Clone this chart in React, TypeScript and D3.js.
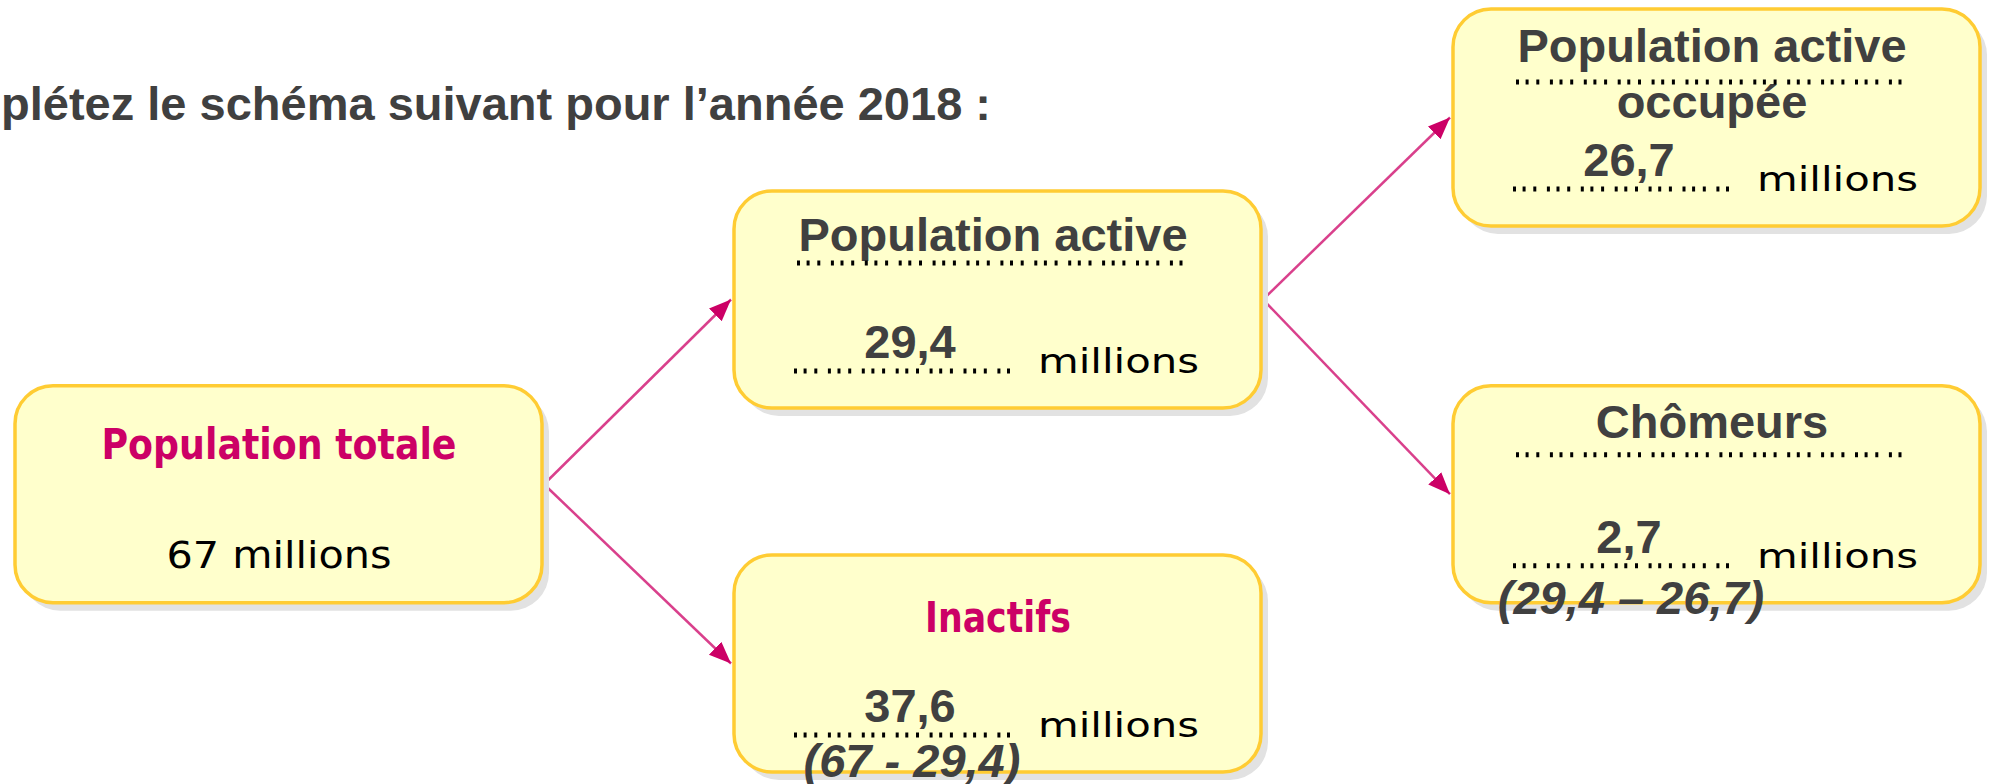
import React from "react";
import * as d3 from "d3";

// diagram content
const heading = "Complétez le schéma suivant pour l’année 2018 :";
const nodeTitles: string[][] = [
  ["Population totale"],
  ["Population active"],
  ["Inactifs"],
  ["Population active", "occupée"],
  ["Chômeurs"],
];
const nodeValues = ["67", "29,4", "37,6", "26,7", "2,7"];
const nodeNotes = ["", "", "(67 - 29,4)", "", "(29,4 – 26,7)"];
const unit = "millions";
const links: [number, number][] = [
  [0, 1],
  [0, 2],
  [1, 3],
  [1, 4],
];

// layout (column / row level per node)
const nodeCol = [0, 1, 1, 2, 2];
const nodeRow = [2.07, 1, 3, 0, 2.07];
const nodeKind = ["given", "blank", "pinkBlank", "blank", "blank"];
const titleDy = [73, 60, 77, 53, 52];
const underlineDy = [0, 72, 0, 82 - 9, 69];
const noteDy = [0, 0, 222, 0, 228];

const W = 1989;
const H = 784;
const BOX_W = 527;
const BOX_H = 217;
const PINK = "#CC0066";
const GREY = "#404040";
const ARIAL = "'Liberation Sans', Arial, sans-serif";
const PIXEL = "'DejaVu Sans', Verdana, sans-serif";
const DOTS = "3 6.6 3 7.7 3 10.6";

const x = d3.scaleLinear().domain([0, 2]).range([15, 1453]);
const y = d3.scaleLinear().domain([0, 3]).range([9, 555]);

const pinkLen: Record<string, number> = {
  "Population totale": 355,
  Inactifs: 146,
};

const App: React.FC = () => {
  const line = d3.line<[number, number]>();

  return (
    <svg
      width={W}
      height={H}
      style={{ position: "absolute", left: 0, top: 0, display: "block", background: "#fff" }}
    >
      <defs>
        <marker
          id="arrow"
          markerUnits="userSpaceOnUse"
          viewBox="0 -10 24 20"
          markerWidth={24}
          markerHeight={20}
          refX={22}
          refY={0}
          orient="auto"
        >
          <path d="M0,-9L22,0L0,9Z" fill={PINK} />
        </marker>
      </defs>

      <text x={991} y={120} textAnchor="end" fontFamily={ARIAL} fontWeight="bold" fontSize={47} fill={GREY}>
        {heading}
      </text>

      {links.map(([s, t], i) => {
        const x0 = x(nodeCol[s]) + BOX_W + 2;
        const y0 = y(nodeRow[s]) + BOX_H / 2 - (s === 0 ? 10 : 0);
        const x1 = x(nodeCol[t]) - 3;
        const y1 = y(nodeRow[t]) + BOX_H / 2;
        return (
          <path
            key={i}
            d={line([
              [x0, y0],
              [x1, y1],
            ]) ?? ""}
            stroke={PINK}
            strokeOpacity={0.75}
            strokeWidth={2.5}
            fill="none"
            markerEnd="url(#arrow)"
          />
        );
      })}

      {nodeTitles.map((title, i) => {
        const bx = x(nodeCol[i]);
        const by = y(nodeRow[i]);
        const kind = nodeKind[i];
        return (
          <g key={i} transform={`translate(${bx},${by})`}>
            <rect x={7} y={8} width={BOX_W} height={BOX_H} rx={38} fill="#e2e2e2" />
            <rect x={0} y={0} width={BOX_W} height={BOX_H} rx={38} fill="#FFFFCC" stroke="#FFCC33" strokeWidth={3.5} />

            {kind === "given" || kind === "pinkBlank" ? (
              <text
                x={264}
                y={titleDy[i]}
                textAnchor="middle"
                fontFamily={PIXEL}
                fontWeight="bold"
                fontSize={42}
                fill={PINK}
                textLength={pinkLen[title[0]]}
                lengthAdjust="spacingAndGlyphs"
              >
                {title[0]}
              </text>
            ) : (
              <g>
                {title.map((t, k) => (
                  <text
                    key={k}
                    x={259}
                    y={titleDy[i] + k * 56}
                    textAnchor="middle"
                    fontFamily={ARIAL}
                    fontWeight="bold"
                    fontSize={47}
                    fill={GREY}
                  >
                    {t}
                  </text>
                ))}
                <line x1={63} x2={453} y1={underlineDy[i]} y2={underlineDy[i]} stroke="#000" strokeWidth={5} strokeDasharray={DOTS} />
              </g>
            )}

            {kind === "given" ? (
              <text
                x={264}
                y={182}
                textAnchor="middle"
                fontFamily={PIXEL}
                fontSize={38}
                fill="#000"
                textLength={225}
                lengthAdjust="spacingAndGlyphs"
              >
                {`${nodeValues[i]} ${unit}`}
              </text>
            ) : (
              <g>
                <line x1={60} x2={281} y1={180} y2={180} stroke="#000" strokeWidth={5} strokeDasharray={DOTS} />
                <text x={176} y={167} textAnchor="middle" fontFamily={ARIAL} fontWeight="bold" fontSize={47} fill={GREY}>
                  {nodeValues[i]}
                </text>
                <text
                  x={304}
                  y={182}
                  fontFamily={PIXEL}
                  fontSize={34}
                  fill="#000"
                  textLength={161}
                  lengthAdjust="spacingAndGlyphs"
                >
                  {unit}
                </text>
                {nodeNotes[i] && (
                  <text
                    x={178}
                    y={noteDy[i]}
                    textAnchor="middle"
                    fontFamily={ARIAL}
                    fontWeight="bold"
                    fontStyle="italic"
                    fontSize={47}
                    fill={GREY}
                  >
                    {nodeNotes[i]}
                  </text>
                )}
              </g>
            )}
          </g>
        );
      })}
    </svg>
  );
};

export default App;
